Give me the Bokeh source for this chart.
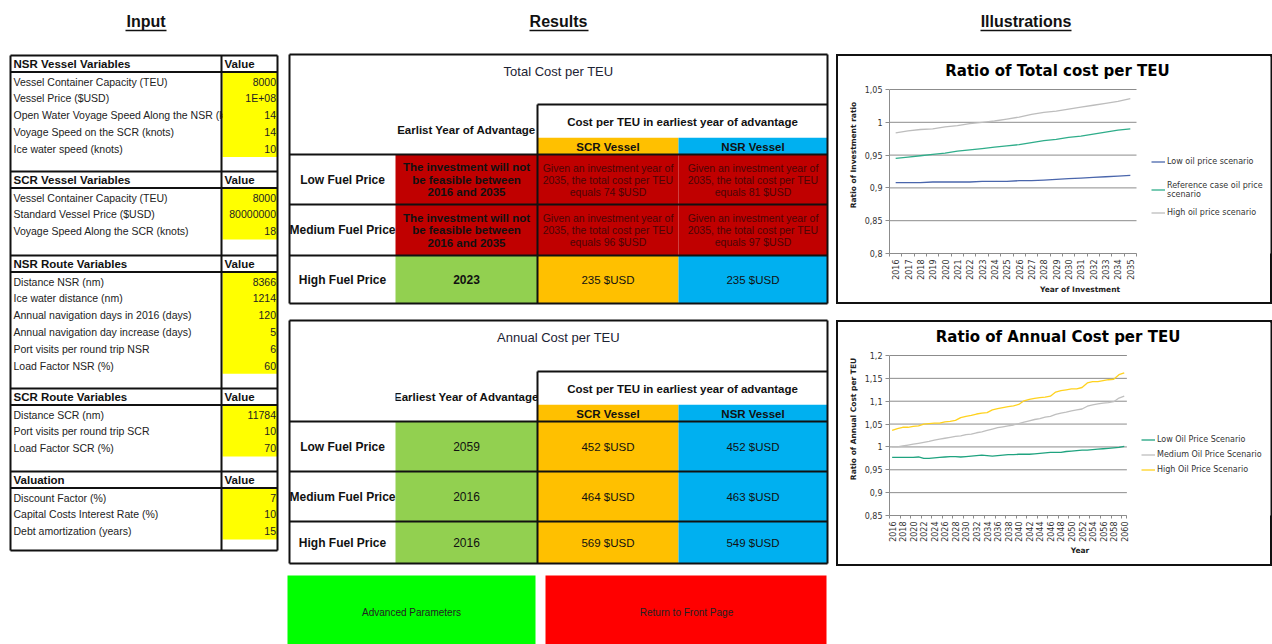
import math
from bokeh.plotting import figure
from bokeh.layouts import row, column
from bokeh.models import (Range1d, ColumnDataSource, FixedTicker, Label, Legend, LegendItem,
                          CustomJSTickFormatter, Spacer)
from bokeh.core.properties import value
from bokeh.embed import file_html
from bokeh.resources import INLINE

# ======================= DATA =======================
page_titles = ["Input", "Results", "Illustrations"]

section_titles = ["NSR Vessel Variables", "SCR Vessel Variables", "NSR Route Variables",
                  "SCR Route Variables", "Valuation"]
value_header = "Value"
nsr_vessel_labels = ["Vessel Container Capacity (TEU)", "Vessel Price ($USD)",
                     "Open Water Voyage Speed Along the NSR (knots)",
                     "Voyage Speed on the SCR (knots)", "Ice water speed (knots)"]
nsr_vessel_values = ["8000", "1E+08", "14", "14", "10"]
scr_vessel_labels = ["Vessel Container Capacity (TEU)", "Standard Vessel Price ($USD)",
                     "Voyage Speed Along the SCR (knots)"]
scr_vessel_values = ["8000", "80000000", "18"]
nsr_route_labels = ["Distance NSR (nm)", "Ice water distance (nm)",
                    "Annual navigation days in 2016 (days)",
                    "Annual navigation day increase (days)",
                    "Port visits per round trip NSR", "Load Factor NSR (%)"]
nsr_route_values = ["8366", "1214", "120", "5", "6", "60"]
scr_route_labels = ["Distance SCR (nm)", "Port visits per round trip SCR", "Load Factor SCR (%)"]
scr_route_values = ["11784", "10", "70"]
valuation_labels = ["Discount Factor (%)", "Capital Costs Interest Rate (%)",
                    "Debt amortization (years)"]
valuation_values = ["7", "10", "15"]

fuel_levels = ["Low Fuel Price", "Medium Fuel Price", "High Fuel Price"]
cost_header = "Cost per TEU in earliest year of advantage"
vessel_headers = ["SCR Vessel", "NSR Vessel"]
total_title = "Total Cost per TEU"
total_earliest_header = "Earlist Year of Advantage"
total_earliest_year = [None, None, 2023]
total_scr_cost = [74, 96, 235]
total_nsr_cost = [81, 97, 235]
study_start, study_end = 2016, 2035
annual_title = "Annual Cost per TEU"
annual_earliest_header = "Earliest Year of Advantage"
annual_earliest_year = [2059, 2016, 2016]
annual_scr_cost = [452, 464, 569]
annual_nsr_cost = [452, 463, 549]
button_labels = ["Advanced Parameters", "Return to Front Page"]

total_chart_title = "Ratio of Total cost per TEU"
total_years = list(range(2016, 2036))
total_low = [0.908, 0.908, 0.908, 0.909, 0.909, 0.909, 0.909, 0.910, 0.910, 0.910,
             0.911, 0.911, 0.912, 0.913, 0.914, 0.915, 0.916, 0.917, 0.918, 0.919]
total_ref = [0.945, 0.947, 0.949, 0.951, 0.953, 0.956, 0.958, 0.960, 0.962, 0.964,
             0.966, 0.969, 0.972, 0.974, 0.977, 0.979, 0.982, 0.985, 0.988, 0.990]
total_high = [0.984, 0.987, 0.989, 0.990, 0.993, 0.995, 0.998, 1.000, 1.002, 1.005,
              1.008, 1.012, 1.015, 1.017, 1.020, 1.023, 1.026, 1.029, 1.032, 1.036]
total_series_names = ["Low oil price scenario", "Reference case oil price\nscenario",
                      "High oil price scenario"]
total_y_ticks = [0.8, 0.85, 0.9, 0.95, 1, 1.05]
total_y_tick_labels = ["0,8", "0,85", "0,9", "0,95", "1", "1,05"]
total_x_title = "Year of Investment"
total_y_title = "Ratio of Investment ratio"

annual_chart_title = "Ratio of Annual Cost per TEU"
annual_years = list(range(2016, 2061))
annual_low = [0.977, 0.977, 0.977, 0.977, 0.977, 0.978, 0.975, 0.975, 0.976, 0.977,
              0.978, 0.979, 0.979, 0.978, 0.979, 0.980, 0.981, 0.982, 0.981, 0.980,
              0.981, 0.982, 0.983, 0.983, 0.984, 0.984, 0.984, 0.985, 0.986, 0.987,
              0.988, 0.988, 0.988, 0.990, 0.991, 0.992, 0.993, 0.993, 0.994, 0.995,
              0.996, 0.997, 0.998, 0.999, 1.001]
annual_medium = [1.000, 1.000, 1.002, 1.004, 1.006, 1.008, 1.010, 1.012, 1.015, 1.017,
                 1.019, 1.021, 1.023, 1.024, 1.027, 1.028, 1.031, 1.033, 1.036, 1.039,
                 1.042, 1.044, 1.046, 1.048, 1.051, 1.054, 1.057, 1.060, 1.062, 1.065,
                 1.067, 1.071, 1.074, 1.076, 1.079, 1.081, 1.083, 1.089, 1.092, 1.094,
                 1.096, 1.097, 1.099, 1.107, 1.111]
annual_high = [1.036, 1.040, 1.043, 1.043, 1.045, 1.046, 1.050, 1.051, 1.052, 1.052,
               1.055, 1.056, 1.058, 1.064, 1.067, 1.069, 1.072, 1.074, 1.075, 1.081,
               1.084, 1.086, 1.088, 1.090, 1.093, 1.101, 1.104, 1.106, 1.108, 1.109,
               1.111, 1.120, 1.123, 1.125, 1.127, 1.127, 1.130, 1.140, 1.143, 1.143,
               1.145, 1.147, 1.148, 1.158, 1.162]
annual_series_names = ["Low Oil Price Scenario", "Medium Oil Price Scenario",
                       "High Oil Price Scenario"]
annual_x_ticks = annual_years[::2]
annual_y_ticks = [0.85, 0.9, 0.95, 1, 1.05, 1.1, 1.15, 1.2]
annual_y_tick_labels = ["0,85", "0,9", "0,95", "1", "1,05", "1,1", "1,15", "1,2"]
annual_x_title = "Year"
annual_y_title = "Ratio of Annual Cost per TEU"

# ======================= STYLE =======================
LBL = "Liberation Sans"
DJ = "DejaVu Sans"
TXT = "#111111"
YELLOW, RED, GREEN, ORANGE, BLUE = "#FFFF00", "#C00000", "#92D050", "#FFC000", "#00B0F0"
BTN_GREEN, BTN_RED = "#00FF00", "#FF0000"
GRID = "#8C8C8C"
AXC = "#8C8C8C"
PAGE_W, PAGE_H = 1272, 644
TOP_H = 52
MAIN_W = 836
RIGHT_X, RIGHT_W = 836, 436


def blank_fig(width, height, xr, yr):
    f = figure(width=width, height=height, x_range=Range1d(*xr), y_range=Range1d(*yr),
               x_axis_location=None, y_axis_location=None, toolbar_location=None,
               output_backend="svg", min_border=0)
    f.title.visible = False
    f.outline_line_color = None
    f.grid.visible = False
    f.background_fill_color = "white"
    return f


# top strip with the three headings (page pixel coordinates)
top = blank_fig(PAGE_W, TOP_H, (0, PAGE_W), (TOP_H, 0))
# left + middle body (page pixel coordinates)
main = blank_fig(MAIN_W, PAGE_H - TOP_H, (0, MAIN_W), (PAGE_H, TOP_H))

base_q = dict(left=[], right=[], top=[], bottom=[], color=[])
mask_q = dict(left=[], right=[], top=[], bottom=[], color=[])
over_t = []
front_t = []
top_t = []
segs = dict(x0=[], y0=[], x1=[], y1=[])


def add_q(q, l, r, t, b, c):
    q["left"].append(l); q["right"].append(r); q["top"].append(t); q["bottom"].append(b)
    q["color"].append(c)


def add_s(d, x0, y0, x1, y1):
    d["x0"].append(x0); d["y0"].append(y0); d["x1"].append(x1); d["y1"].append(y1)


def add_t(lst, x, y, s, size, style="normal", color=TXT, align="center", font=LBL):
    lst.append((x, y, s, size, style, color, align, font))


# ---- page headings ----
heading_x = [145.5, 558, 1025.5]
underlines = [(125, 166), (529, 588), (980, 1071)]
for hx, t in zip(heading_x, page_titles):
    add_t(top_t, hx, 21, t, "16px", "bold")

# ---- input table ----
TL, TD, TR = 10, 221, 277
SEC_TOPS = [55, 171, 255, 388, 471]
TBL_BOTTOM = 550
HDR_H, ROW_H = 16.5, 16.8
sections = [(section_titles[0], nsr_vessel_labels, nsr_vessel_values),
            (section_titles[1], scr_vessel_labels, scr_vessel_values),
            (section_titles[2], nsr_route_labels, nsr_route_values),
            (section_titles[3], scr_route_labels, scr_route_values),
            (section_titles[4], valuation_labels, valuation_values)]
for (title, labels, vals), top_y in zip(sections, SEC_TOPS):
    hb = top_y + HDR_H
    add_t(front_t, 13, top_y + HDR_H / 2 + 0.5, title, "11.5px", "bold", align="left")
    add_t(front_t, 224, top_y + HDR_H / 2 + 0.5, value_header, "11.5px", "bold", align="left")
    add_q(mask_q, TD + 1, TR, hb, hb + len(labels) * ROW_H + 1, YELLOW)
    for i, (lab, v) in enumerate(zip(labels, vals)):
        yc = hb + 9.5 + i * ROW_H
        add_t(over_t, 13, yc, lab, "10.5px", align="left", color="#222222")
        add_t(front_t, TR - 1.5, yc, v, "10.5px", align="right", color="#222222")
    add_s(segs, TL, top_y, TR, top_y)
    add_s(segs, TL, hb, TR, hb)
add_s(segs, TL, TBL_BOTTOM, TR, TBL_BOTTOM)
add_s(segs, TL, SEC_TOPS[0], TL, TBL_BOTTOM)
add_s(segs, TD, SEC_TOPS[0], TD, TBL_BOTTOM)
add_s(segs, TR, SEC_TOPS[0], TR, TBL_BOTTOM)

# ---- results tables ----
RX = [289, 395, 537, 678, 827]


def results_table(top_y, box_top, vessel_top, row_edges, title, early_hdr, early, scr, nsr,
                  year_style):
    bottom = row_edges[-1]
    add_t(front_t, (RX[0] + RX[4]) / 2, top_y + 17, title, "13px", color="#1C2333")
    add_q(base_q, RX[2], RX[3], vessel_top, row_edges[0], ORANGE)
    add_q(base_q, RX[3], RX[4], vessel_top, row_edges[0], BLUE)
    for k, h in enumerate(vessel_headers):
        add_t(front_t, (RX[2 + k] + RX[3 + k]) / 2, (vessel_top + row_edges[0]) / 2 + 1, h,
              "11.5px", "bold")
    add_t(over_t, (RX[1] + RX[2]) / 2, (box_top + row_edges[0]) / 2, early_hdr, "11.5px", "bold")
    add_q(mask_q, RX[0] + 1, RX[1], box_top, row_edges[0] - 1, "white")
    add_q(mask_q, RX[2], RX[4], box_top, vessel_top, "white")
    add_t(front_t, (RX[2] + RX[4]) / 2, (box_top + vessel_top) / 2 + 1, cost_header,
          "11.5px", "bold")
    for r in range(3):
        y0, y1 = row_edges[r], row_edges[r + 1]
        yc = (y0 + y1) / 2
        add_t(front_t, (RX[0] + RX[1]) / 2, yc, fuel_levels[r], "12px", "bold")
        if early[r] is None:
            for c in (1, 2, 3):
                add_q(base_q, RX[c], RX[c + 1], y0, y1, RED)
            lines = ["The investment will not", "be feasible between",
                     f"{study_start} and {study_end}"]
            for j, s in enumerate(lines):
                add_t(front_t, (RX[1] + RX[2]) / 2, yc + (j - 1) * 12.5, s, "11.5px", "bold")
            for c, cost in ((2, scr[r]), (3, nsr[r])):
                glines = ["Given an investment year of",
                          f"{study_end}, the total cost per TEU", f"equals {cost} $USD"]
                for j, s in enumerate(glines):
                    add_t(front_t, (RX[c] + RX[c + 1]) / 2, yc + (j - 1) * 12, s, "10.5px",
                          color="#4A0606")
        else:
            add_q(base_q, RX[1], RX[2], y0, y1, GREEN)
            add_q(base_q, RX[2], RX[3], y0, y1, ORANGE)
            add_q(base_q, RX[3], RX[4], y0, y1, BLUE)
            add_t(front_t, (RX[1] + RX[2]) / 2, yc, str(early[r]), "12px", year_style)
            add_t(front_t, (RX[2] + RX[3]) / 2, yc, f"{scr[r]} $USD", "11.5px")
            add_t(front_t, (RX[3] + RX[4]) / 2, yc, f"{nsr[r]} $USD", "11.5px")
    add_s(segs, RX[0], top_y, RX[4], top_y)
    add_s(segs, RX[0], bottom, RX[4], bottom)
    add_s(segs, RX[0], top_y, RX[0], bottom)
    add_s(segs, RX[4], top_y, RX[4], bottom)
    add_s(segs, RX[2], box_top, RX[4], box_top)
    add_s(segs, RX[2], box_top, RX[2], bottom)
    for e in row_edges[:-1]:
        add_s(segs, RX[0], e, RX[4], e)


results_table(54, 104, 137, [154, 204, 255, 303], total_title, total_earliest_header,
              total_earliest_year, total_scr_cost, total_nsr_cost, "bold")
results_table(320, 371, 404, [421, 471, 521, 563], annual_title, annual_earliest_header,
              annual_earliest_year, annual_scr_cost, annual_nsr_cost, "normal")

# ---- buttons ----
add_q(base_q, 287, 535, 575, 644, BTN_GREEN)
add_q(base_q, 545, 826, 575, 644, BTN_RED)
add_t(front_t, 411, 612, button_labels[0], "10px", color="#222222")
add_t(front_t, 686, 612, button_labels[1], "10px", color="#222222")


def draw_quads(fig, q):
    if q["left"]:
        fig.quad(left="left", right="right", top="top", bottom="bottom", fill_color="color",
                 line_color=None, source=ColumnDataSource(q))


def draw_texts(fig, items):
    groups = {}
    for (x, y, s, size, style, color, align, font) in items:
        groups.setdefault((size, style, color, align, font), []).append((x, y, s))
    for (size, style, color, align, font), pts in groups.items():
        fig.text(x=[p[0] for p in pts], y=[p[1] for p in pts], text=[p[2] for p in pts],
                 text_font=value(font), text_font_size=value(size),
                 text_font_style=value(style), text_color=value(color),
                 text_align=value(align), text_baseline=value("middle"))


draw_quads(main, base_q)
draw_texts(main, over_t)
draw_quads(main, mask_q)
draw_texts(main, front_t)
main.segment(x0="x0", y0="y0", x1="x1", y1="y1", source=ColumnDataSource(segs),
             line_color="#111111", line_width=2)

draw_texts(top, top_t)
top.segment(x0=[u[0] for u in underlines], x1=[u[1] for u in underlines],
            y0=[30] * len(underlines), y1=[30] * len(underlines),
            line_color="#111111", line_width=1.5)


# ======================= CHARTS =======================
def make_chart(page_top, height, plot_box, xr, yr):
    """plot_box = page pixel (left, right, top, bottom) of the data area;
    the frame is extended up and right so titles/legends are drawn inside it."""
    pl, pr, pt, pb = plot_box
    fl, fr = pl, RIGHT_X + RIGHT_W - 2
    ft, fb = page_top + 2, pb
    x_end = xr[0] + (xr[1] - xr[0]) * (fr - fl) / (pr - pl)
    y_end = yr[0] + (yr[1] - yr[0]) * (fb - ft) / (pb - pt)
    p = figure(width=RIGHT_W, height=height, x_range=Range1d(xr[0], x_end),
               y_range=Range1d(yr[0], y_end),
               min_border_left=fl - RIGHT_X, min_border_right=RIGHT_X + RIGHT_W - fr,
               min_border_top=ft - page_top, min_border_bottom=page_top + height - fb,
               toolbar_location=None, output_backend="svg",
               styles={"box-shadow": "inset 0 0 0 2px #111111"})
    p.title.visible = False
    p.extra_x_ranges = {"px": Range1d(fl, fr)}
    p.extra_y_ranges = {"py": Range1d(fb, ft)}
    p.outline_line_color = None
    p.background_fill_color = "white"
    p.border_fill_alpha = 0
    p.grid.visible = False
    return p


def style_axes(p, xr, yr, x_ticks, x_minor, y_ticks, y_labels, xlabel, ylabel, xl_standoff):
    xt = FixedTicker(ticks=x_ticks, minor_ticks=x_minor)
    p.xaxis.ticker = xt
    p.xaxis.bounds = xr
    p.xaxis.major_label_orientation = math.pi / 2
    p.xaxis.major_label_text_font = DJ
    p.xaxis.major_label_text_font_size = "8px"
    p.xaxis.major_label_text_color = "#333333"
    p.xaxis.major_tick_out = 0
    p.xaxis.major_tick_in = 0
    p.xaxis.minor_tick_out = 3
    p.xaxis.minor_tick_in = 0
    p.xaxis.minor_tick_line_color = AXC
    p.xaxis.axis_line_color = AXC
    p.xaxis.major_label_standoff = 3
    p.xaxis.axis_label = xlabel
    p.xaxis.axis_label_text_font = DJ
    p.xaxis.axis_label_text_font_size = "7.5px"
    p.xaxis.axis_label_text_font_style = "bold"
    p.xaxis.axis_label_text_color = "#222222"
    p.xaxis.axis_label_standoff = xl_standoff
    yt = FixedTicker(ticks=y_ticks)
    p.yaxis.ticker = yt
    p.yaxis.bounds = yr
    p.yaxis.formatter = CustomJSTickFormatter(
        args=dict(tvals=y_ticks, tlabels=y_labels),
        code="const i = tvals.findIndex((t) => Math.abs(t - tick) < 1e-9); "
             "return i >= 0 ? tlabels[i] : '';")
    p.yaxis.major_label_text_font = DJ
    p.yaxis.major_label_text_font_size = "8px"
    p.yaxis.major_label_text_color = "#333333"
    p.yaxis.major_tick_out = 4
    p.yaxis.major_tick_in = 0
    p.yaxis.major_tick_line_color = AXC
    p.yaxis.minor_tick_out = 0
    p.yaxis.minor_tick_in = 0
    p.yaxis.axis_line_color = AXC
    p.yaxis.major_label_standoff = 3
    p.yaxis.axis_label = ylabel
    p.yaxis.axis_label_text_font = DJ
    p.yaxis.axis_label_text_font_size = "7.5px"
    p.yaxis.axis_label_text_font_style = "bold"
    p.yaxis.axis_label_text_color = "#222222"
    p.yaxis.axis_label_standoff = 4
    # horizontal gridlines limited to the data area
    p.segment(x0=[xr[0]] * len(y_ticks), x1=[xr[1]] * len(y_ticks), y0=y_ticks, y1=y_ticks,
              line_color=GRID, line_width=1)


def add_title(p, title, title_y):
    p.add_layout(Label(x=RIGHT_X + RIGHT_W / 2 + 3, y=title_y, x_range_name="px",
                       y_range_name="py", text=title, text_align="center",
                       text_baseline="middle", text_font=DJ, text_font_size="15px",
                       text_font_style="bold", text_color="#000000"))


def add_legend_item(p, renderer, label, page_x, page_yc, plot_box):
    pl, pr, pt, pb = plot_box
    p.add_layout(Legend(items=[LegendItem(label=label, renderers=[renderer])],
                        location=(page_x - pl, pb - page_yc - 4.5), padding=0, margin=0,
                        spacing=0, border_line_color=None, background_fill_alpha=0,
                        glyph_width=14, glyph_height=9, label_height=9, label_standoff=2,
                        label_text_font=DJ, label_text_font_size="8px",
                        label_text_color="#333333"))


# ---- chart 1 ----
P1 = (889, 1136, 89, 253)
xr1 = (total_years[0] - 0.5, total_years[-1] + 0.5)
yr1 = (total_y_ticks[0], total_y_ticks[-1])
c1 = make_chart(54, 250, P1, xr1, yr1)
style_axes(c1, xr1, yr1, total_years, [y - 0.5 for y in total_years] + [xr1[1]],
           total_y_ticks, total_y_tick_labels, total_x_title, total_y_title, 2)
src1 = ColumnDataSource(dict(year=total_years, low=total_low, ref=total_ref, high=total_high))
r1a = c1.line("year", "low", source=src1, line_color="#4A66AC", line_width=1.3)
r1b = c1.line("year", "ref", source=src1, line_color="#2FAD8A", line_width=1.3)
r1c = c1.line("year", "high", source=src1, line_color="#BDBDBD", line_width=1.3)
add_title(c1, total_chart_title, 70)
add_legend_item(c1, r1a, total_series_names[0], 1151, 161, P1)
add_legend_item(c1, r1b, total_series_names[1], 1151, 194, P1)
add_legend_item(c1, r1c, total_series_names[2], 1151, 212, P1)

# ---- chart 2 ----
P2 = (888, 1126, 355, 515)
xr2 = (annual_years[0] - 0.5, annual_years[-1] + 0.5)
yr2 = (annual_y_ticks[0], annual_y_ticks[-1])
c2 = make_chart(320, 246, P2, xr2, yr2)
style_axes(c2, xr2, yr2, annual_x_ticks, [y - 0.5 for y in annual_years[::2]] + [xr2[1]],
           annual_y_ticks, annual_y_tick_labels, annual_x_title, annual_y_title, 1)
src2 = ColumnDataSource(dict(year=annual_years, low=annual_low, med=annual_medium,
                             high=annual_high))
r2a = c2.line("year", "low", source=src2, line_color="#1FA37F", line_width=1.3)
r2b = c2.line("year", "med", source=src2, line_color="#BFBFBF", line_width=1.3)
r2c = c2.line("year", "high", source=src2, line_color="#FFD21F", line_width=1.3)
add_title(c2, annual_chart_title, 336)
add_legend_item(c2, r2a, annual_series_names[0], 1140, 439, P2)
add_legend_item(c2, r2b, annual_series_names[1], 1140, 454, P2)
add_legend_item(c2, r2c, annual_series_names[2], 1140, 469, P2)

right = column(Spacer(width=RIGHT_W, height=54 - TOP_H), c1,
               Spacer(width=RIGHT_W, height=16), c2)
layout = column(top, row(main, right))
open("out.html", "w").write(file_html(layout, INLINE))
